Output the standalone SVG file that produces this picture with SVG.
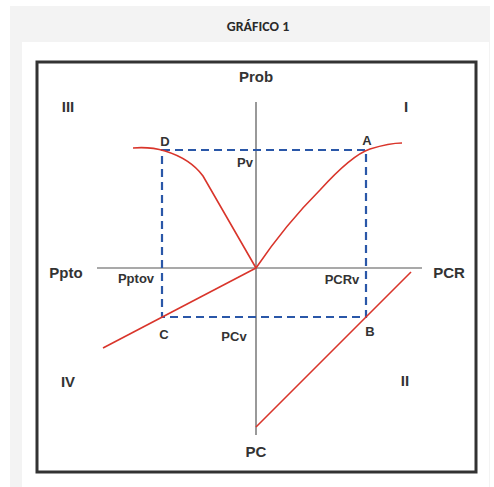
<svg xmlns="http://www.w3.org/2000/svg" width="494" height="487" viewBox="0 0 494 487">
<style>
.lbl{font-family:"Liberation Sans",Arial,sans-serif;font-weight:bold;fill:#333;text-anchor:middle}
.ax{font-size:15px}
.pt{font-size:13px}
.axis{stroke:#555;stroke-width:1.2;fill:none}
.red{stroke:#d9352b;stroke-width:1.6;fill:none}
.dash{stroke:#2a57a8;stroke-width:2.2;stroke-dasharray:8 5;fill:none}
</style>
<rect x="0" y="0" width="494" height="487" fill="#ffffff"/>
<rect x="10" y="6" width="480" height="481" fill="#f3f3f3"/>
<rect x="22" y="42" width="467" height="445" fill="#ffffff"/>
<text x="258" y="31" font-family="Carlito,'Liberation Sans',sans-serif" font-weight="bold" font-size="14" fill="#2a2a2a" text-anchor="middle">GRÁFICO 1</text>
<rect x="37" y="62" width="439" height="410" fill="#fff" stroke="#333" stroke-width="3"/>
<g id="axes">
<line class="axis" x1="256" y1="102" x2="256" y2="435"/>
<line class="axis" x1="97" y1="268" x2="422" y2="268"/>
</g>
<g id="guides">
<rect class="dash" x="162" y="150" width="204" height="167"/>
</g>
<g id="curves">
<path class="red" d="M256,268 C275,240 300,210 320,190 C340,168 358,153 370,149 C383,145 395,143 402,143"/>
<path class="red" d="M133,148 C145,147 155,148 165,151 C178,155 192,161 203,176 L256,268"/>
<path class="red" d="M256,268 L103,348"/>
<path class="red" d="M256,427 L411,272"/>
</g>
<g id="labels">
<text class="lbl ax" x="256" y="82">Prob</text>
<text class="lbl ax" x="256" y="457">PC</text>
<text class="lbl ax" x="66" y="278">Ppto</text>
<text class="lbl ax" x="449" y="278">PCR</text>
<text class="lbl ax" x="68" y="112">III</text>
<text class="lbl ax" x="406" y="112">I</text>
<text class="lbl ax" x="68" y="387">IV</text>
<text class="lbl ax" x="405" y="386">II</text>
<text class="lbl pt" x="165" y="146">D</text>
<text class="lbl pt" x="367" y="145">A</text>
<text class="lbl pt" x="245" y="167">Pv</text>
<text class="lbl pt" x="136" y="283">Pptov</text>
<text class="lbl pt" x="342" y="284">PCRv</text>
<text class="lbl pt" x="164" y="339">C</text>
<text class="lbl pt" x="234" y="341">PCv</text>
<text class="lbl pt" x="370" y="336">B</text>
</g>
</svg>
